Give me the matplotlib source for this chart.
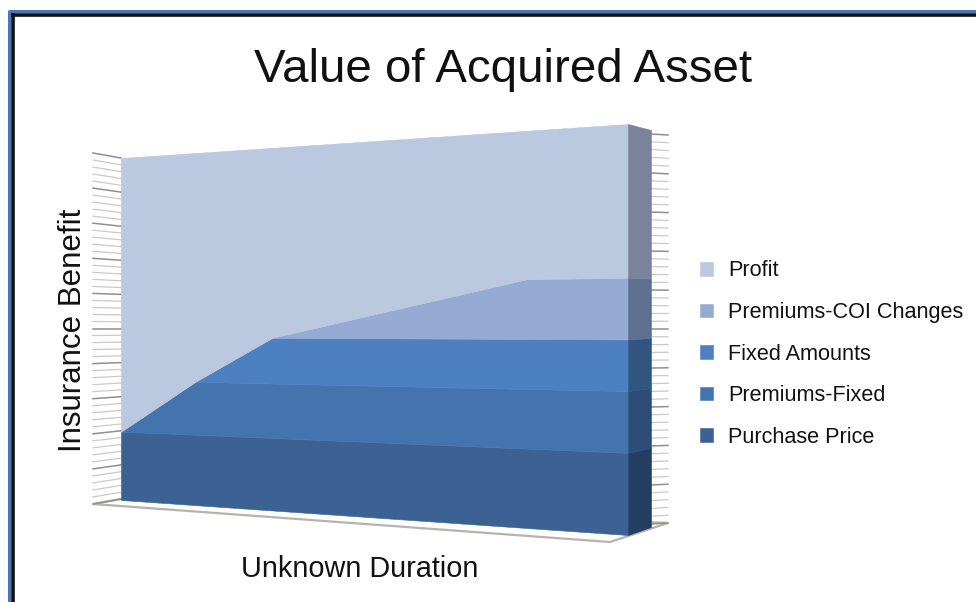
import matplotlib
matplotlib.use("Agg")
import matplotlib.pyplot as plt
import numpy as np
from matplotlib.transforms import Transform

plt.rcParams['font.family'] = ['Liberation Sans', 'DejaVu Sans']

# values (percent of the total height)
duration = [0, 14.6, 29.8, 80, 100]
purchase_price = [20, 20, 20, 20, 20]
premiums_fixed = [0, 15, 15, 15, 15]
fixed_amounts = [0, 0, 12.6, 12.6, 12.6]
premiums_coi = [0, 0, 0, 15, 15]
profit = [80, 65, 52.4, 37.4, 37.4]

labels = ["Purchase Price", "Premiums-Fixed", "Fixed Amounts", "Premiums-COI Changes", "Profit"]
front_colors = ["#3B6293", "#4474AE", "#4C80C2", "#95ABD3", "#BAC8E0"]
side_colors = ["#233E60", "#2B4D78", "#2F5580", "#5E708F", "#7A8399"]

minor_ticks = np.arange(0, 101, 2)
major_ticks = np.arange(0, 101, 10)


class Wall(Transform):
    # maps (x, percent) on to a slanted plane, in pixels
    input_dims = 2
    output_dims = 2

    def __init__(self, xr, px, bottom, top):
        super().__init__()
        self.xr, self.px, self.bottom, self.top = xr, px, bottom, top

    def transform_non_affine(self, values):
        values = np.asarray(values, dtype=float)
        t = (values[:, 0] - self.xr[0]) / (self.xr[1] - self.xr[0])
        x = self.px[0] + t * (self.px[1] - self.px[0])
        low = self.bottom[0] + t * (self.bottom[1] - self.bottom[0])
        high = self.top[0] + t * (self.top[1] - self.top[0])
        return np.column_stack([x, low + values[:, 1] / 100 * (high - low)])


fig = plt.figure(figsize=(9.76, 6.02), dpi=100)
ax = fig.add_axes([0, 0, 1, 1])

front = Wall((0, 100), (121, 628), (500, 535), (158, 124)) + ax.transData
side = Wall((0, 1), (628, 651), (535, 527), (124, 130)) + ax.transData
left_wall = Wall((0, 1), (93, 121), (504, 499), (153, 158)) + ax.transData
right_wall = Wall((0, 1), (651, 668), (524, 523), (134, 135)) + ax.transData

# floor
ax.fill([93, 121, 668, 610], [504, 499, 523, 542], facecolor="white", edgecolor="#b5b3ae", lw=1.6, zorder=1)

# tick lines on both walls
for wall in [left_wall, right_wall]:
    for v in minor_ticks:
        major = v in major_ticks
        ax.plot([0, 1], [v, v], color="#8f8f8f" if major else "#cacaca", lw=1.1 if major else 0.9,
                transform=wall, zorder=1.5)

layers = [purchase_price, premiums_fixed, fixed_amounts, premiums_coi, profit]
polys = ax.stackplot(duration, layers, colors=front_colors, labels=labels, transform=front,
                     edgecolor="face", lw=0.4, zorder=3)

# right hand side of the block uses the last value of each layer
ax.stackplot([0, 1], [[s[-1], s[-1]] for s in layers], colors=side_colors, transform=side,
              edgecolor="face", lw=0.4, zorder=3)

ax.set_xlim(0, 976)
ax.set_ylim(602, 0)
ax.axis("off")

# frame, only on the top and left
ax.plot([8.5, 976], [11, 11], color="#4a78b4", lw=2.2, solid_capstyle="butt", zorder=5)
ax.plot([9, 9], [10, 602], color="#4a78b4", lw=2.2, solid_capstyle="butt", zorder=5)
ax.plot([11, 976], [14.5, 14.5], color="#111111", lw=2.6, solid_capstyle="butt", zorder=5)
ax.plot([12.5, 12.5], [13, 602], color="#111111", lw=2.6, solid_capstyle="butt", zorder=5)

ax.text(503, 70, "Value of Acquired Asset", fontsize=34.2, ha="center", va="center", color="#111111")
ax.text(73, 330, "Insurance Benefit", fontsize=22.5, rotation=90, ha="center", va="center", color="#111111")
ax.text(360, 569, "Unknown Duration", fontsize=20.8, ha="center", va="center", color="#111111")

ax.legend(polys[::-1], labels[::-1], loc="upper left", bbox_to_anchor=(693.5 / 976, 1 - 254 / 602),
          frameon=False, fontsize=15.6, labelspacing=0.95, handlelength=0.6, handleheight=0.6,
          handletextpad=0.69, borderpad=0.3, borderaxespad=0, labelcolor="#111111")

fig.savefig("out.png", dpi=100)
